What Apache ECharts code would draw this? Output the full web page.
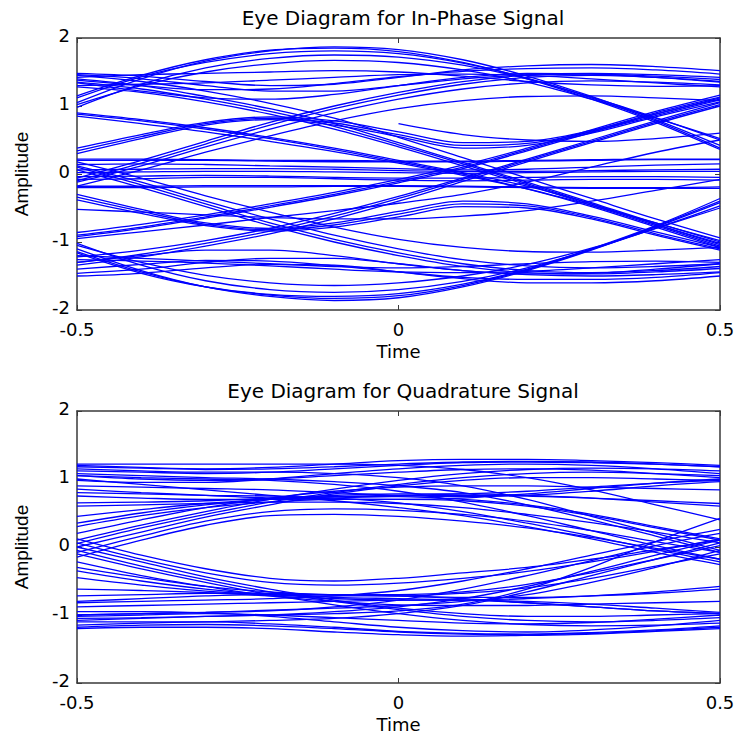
<!DOCTYPE html>
<html>
<head>
<meta charset="utf-8">
<script src="https://cdn.jsdelivr.net/npm/echarts@6/dist/echarts.min.js"></script>
<style>
  html, body { margin: 0; padding: 0; background: #ffffff; }
  #chart { width: 738px; height: 738px; }
</style>
</head>
<body>
<div id="chart"></div>
<script>
// Sample instants of every trace (one symbol period, centred on 0)
const timeSamples = [-0.5, -0.4, -0.3, -0.2, -0.1, 0, 0.1, 0.2, 0.3, 0.4, 0.5];

// Axis ticks
const timeTicks = [-0.5, 0, 0.5];
const ampTicks = [-2, -1, 0, 1, 2];

const titles = ['Eye Diagram for In-Phase Signal', 'Eye Diagram for Quadrature Signal'];
const xName = 'Time';
const yName = 'Amplitude';

// In-phase traces: amplitude at each sample instant (null = trace not yet started)
const inPhaseTraces = [
  [1.05, 1.40, 1.66, 1.81, 1.87, 1.83, 1.68, 1.44, 1.14, 0.80, 0.42],
  [1.12, 1.43, 1.64, 1.77, 1.81, 1.77, 1.63, 1.41, 1.12, 0.78, 0.38],
  [1.15, 1.45, 1.68, 1.82, 1.85, 1.80, 1.64, 1.40, 1.10, 0.76, 0.36],
  [0.98, 1.32, 1.56, 1.70, 1.75, 1.72, 1.60, 1.40, 1.13, 0.83, 0.50],
  [1.02, 1.30, 1.50, 1.62, 1.67, 1.64, 1.53, 1.35, 1.10, 0.82, 0.52],
  [1.48, 1.44, 1.36, 1.30, 1.32, 1.42, 1.53, 1.59, 1.61, 1.58, 1.52],
  [1.46, 1.40, 1.30, 1.22, 1.22, 1.30, 1.40, 1.46, 1.48, 1.46, 1.42],
  [1.38, 1.30, 1.24, 1.25, 1.33, 1.43, 1.51, 1.55, 1.56, 1.53, 1.47],
  [1.34, 1.22, 1.12, 1.10, 1.17, 1.30, 1.42, 1.48, 1.47, 1.42, 1.35],
  [1.42, 1.46, 1.48, 1.50, 1.52, 1.50, 1.44, 1.36, 1.31, 1.29, 1.30],
  [1.30, 1.32, 1.34, 1.38, 1.42, 1.46, 1.47, 1.45, 1.40, 1.34, 1.28],
  [1.45, 1.36, 1.22, 1.04, 0.82, 0.54, 0.24, -0.06, -0.36, -0.66, -0.94],
  [1.40, 1.30, 1.14, 0.96, 0.74, 0.46, 0.17, -0.12, -0.42, -0.72, -0.98],
  [1.35, 1.25, 1.10, 0.92, 0.70, 0.43, 0.15, -0.14, -0.44, -0.74, -1.02],
  [1.28, 1.20, 1.06, 0.88, 0.66, 0.40, 0.12, -0.16, -0.46, -0.76, -1.06],
  [0.90, 0.80, 0.68, 0.54, 0.38, 0.20, 0.02, -0.18, -0.44, -0.74, -1.04],
  [0.88, 0.78, 0.66, 0.52, 0.36, 0.18, 0.00, -0.22, -0.48, -0.78, -1.08],
  [0.85, 0.74, 0.62, 0.48, 0.33, 0.16, -0.02, -0.22, -0.46, -0.72, -1.00],
  [-0.12, 0.12, 0.40, 0.66, 0.90, 1.10, 1.25, 1.34, 1.37, 1.35, 1.31],
  [-0.10, 0.16, 0.44, 0.72, 0.96, 1.16, 1.32, 1.42, 1.45, 1.42, 1.36],
  [-0.06, 0.20, 0.48, 0.76, 1.00, 1.20, 1.36, 1.45, 1.47, 1.44, 1.39],
  [-0.18, 0.06, 0.32, 0.56, 0.78, 0.96, 1.08, 1.14, 1.15, 1.12, 1.08],
  [0.30, 0.52, 0.72, 0.80, 0.72, 0.55, 0.38, 0.42, 0.60, 0.84, 1.06],
  [0.34, 0.55, 0.74, 0.82, 0.75, 0.58, 0.42, 0.45, 0.62, 0.86, 1.09],
  [0.38, 0.58, 0.76, 0.84, 0.78, 0.62, 0.46, 0.48, 0.64, 0.88, 1.12],
  [null, null, null, null, null, 0.74, 0.58, 0.50, 0.48, 0.52, 0.60],
  [-0.92, -0.80, -0.65, -0.49, -0.32, -0.13, 0.08, 0.34, 0.61, 0.88, 1.10],
  [-0.90, -0.78, -0.63, -0.47, -0.30, -0.11, 0.10, 0.36, 0.63, 0.90, 1.13],
  [-0.86, -0.74, -0.60, -0.44, -0.27, -0.08, 0.13, 0.38, 0.65, 0.92, 1.16],
  [0.22, 0.22, 0.21, 0.20, 0.20, 0.19, 0.19, 0.20, 0.21, 0.22, 0.22],
  [0.20, 0.20, 0.20, 0.19, 0.18, 0.18, 0.18, 0.19, 0.20, 0.21, 0.21],
  [0.14, 0.15, 0.14, 0.12, 0.10, 0.08, 0.06, 0.07, 0.10, 0.13, 0.15],
  [0.06, 0.07, 0.08, 0.08, 0.07, 0.05, 0.04, 0.04, 0.05, 0.06, 0.07],
  [0.02, 0.03, 0.04, 0.04, 0.03, 0.02, 0.01, 0.02, 0.03, 0.04, 0.04],
  [-0.04, -0.03, -0.02, -0.03, -0.05, -0.06, -0.06, -0.05, -0.04, -0.04, -0.05],
  [-0.08, -0.07, -0.05, -0.05, -0.07, -0.09, -0.10, -0.09, -0.08, -0.08, -0.09],
  [-0.18, -0.18, -0.17, -0.17, -0.17, -0.17, -0.18, -0.19, -0.20, -0.20, -0.19],
  [-0.20, -0.20, -0.19, -0.19, -0.18, -0.18, -0.19, -0.20, -0.21, -0.21, -0.21],
  [-1.10, -1.42, -1.66, -1.80, -1.86, -1.82, -1.66, -1.42, -1.12, -0.78, -0.42],
  [-1.14, -1.44, -1.66, -1.78, -1.83, -1.79, -1.64, -1.41, -1.11, -0.77, -0.40],
  [-1.16, -1.46, -1.66, -1.77, -1.80, -1.76, -1.62, -1.40, -1.10, -0.76, -0.36],
  [-1.02, -1.34, -1.57, -1.70, -1.74, -1.70, -1.58, -1.38, -1.11, -0.80, -0.47],
  [-1.05, -1.30, -1.49, -1.60, -1.64, -1.60, -1.50, -1.33, -1.09, -0.80, -0.50],
  [-1.50, -1.46, -1.38, -1.33, -1.34, -1.44, -1.54, -1.60, -1.60, -1.57, -1.50],
  [-1.46, -1.40, -1.30, -1.24, -1.24, -1.32, -1.42, -1.48, -1.50, -1.48, -1.44],
  [-1.40, -1.33, -1.27, -1.28, -1.35, -1.44, -1.52, -1.55, -1.55, -1.52, -1.45],
  [-1.30, -1.20, -1.12, -1.12, -1.20, -1.32, -1.42, -1.47, -1.46, -1.40, -1.32],
  [-1.20, -1.24, -1.28, -1.32, -1.36, -1.38, -1.36, -1.32, -1.29, -1.28, -1.30],
  [-1.26, -1.28, -1.31, -1.35, -1.40, -1.44, -1.45, -1.43, -1.38, -1.32, -1.26],
  [-1.34, -1.22, -1.06, -0.88, -0.66, -0.40, -0.11, 0.18, 0.46, 0.74, 1.00],
  [-1.30, -1.18, -1.02, -0.84, -0.62, -0.36, -0.08, 0.20, 0.48, 0.76, 1.02],
  [-1.22, -1.12, -0.98, -0.80, -0.58, -0.33, -0.06, 0.22, 0.50, 0.78, 1.05],
  [0.12, -0.12, -0.40, -0.66, -0.90, -1.10, -1.26, -1.35, -1.38, -1.36, -1.32],
  [0.10, -0.16, -0.44, -0.72, -0.96, -1.16, -1.32, -1.42, -1.45, -1.42, -1.36],
  [0.06, -0.20, -0.48, -0.76, -1.00, -1.20, -1.36, -1.45, -1.47, -1.44, -1.39],
  [0.18, -0.06, -0.32, -0.56, -0.78, -0.96, -1.08, -1.14, -1.15, -1.12, -1.08],
  [-0.30, -0.52, -0.72, -0.80, -0.72, -0.55, -0.40, -0.44, -0.62, -0.85, -1.08],
  [-0.34, -0.55, -0.74, -0.82, -0.75, -0.59, -0.44, -0.47, -0.64, -0.88, -1.10],
  [-0.38, -0.58, -0.76, -0.84, -0.78, -0.63, -0.48, -0.50, -0.66, -0.90, -1.12],
  [-0.95, -0.85, -0.75, -0.64, -0.54, -0.43, -0.30, -0.12, 0.10, 0.32, 0.50],
  [-0.52, -0.56, -0.60, -0.64, -0.66, -0.66, -0.62, -0.54, -0.40, -0.24, -0.08]
];

// Quadrature traces: amplitude at each sample instant
const quadratureTraces = [
  [1.20, 1.17, 1.15, 1.17, 1.22, 1.27, 1.29, 1.29, 1.27, 1.24, 1.20],
  [1.18, 1.16, 1.14, 1.15, 1.18, 1.22, 1.25, 1.26, 1.25, 1.22, 1.18],
  [1.12, 1.10, 1.08, 1.10, 1.15, 1.20, 1.24, 1.25, 1.24, 1.22, 1.18],
  [1.05, 1.00, 0.98, 1.00, 1.05, 1.10, 1.14, 1.15, 1.13, 1.08, 1.02],
  [0.98, 0.95, 0.95, 1.00, 1.08, 1.15, 1.20, 1.22, 1.20, 1.15, 1.08],
  [1.22, 1.22, 1.22, 1.22, 1.22, 1.20, 1.14, 1.02, 0.84, 0.62, 0.40],
  [1.15, 1.12, 1.10, 1.10, 1.08, 1.02, 0.90, 0.70, 0.45, 0.20, -0.05],
  [1.08, 1.05, 1.02, 1.00, 0.96, 0.90, 0.80, 0.62, 0.40, 0.16, -0.08],
  [1.05, 1.02, 1.00, 0.98, 0.92, 0.82, 0.66, 0.46, 0.24, 0.02, -0.18],
  [0.80, 0.78, 0.76, 0.75, 0.72, 0.65, 0.52, 0.35, 0.16, -0.04, -0.22],
  [0.00, 0.22, 0.44, 0.62, 0.78, 0.90, 0.98, 1.02, 1.02, 1.00, 0.98],
  [0.05, 0.28, 0.48, 0.66, 0.80, 0.92, 1.02, 1.08, 1.10, 1.08, 1.05],
  [0.10, 0.32, 0.52, 0.70, 0.85, 0.98, 1.08, 1.14, 1.16, 1.15, 1.12],
  [0.20, 0.40, 0.58, 0.72, 0.82, 0.88, 0.90, 0.90, 0.88, 0.86, 0.84],
  [0.35, 0.50, 0.62, 0.70, 0.74, 0.76, 0.78, 0.82, 0.88, 0.94, 0.98],
  [-0.15, 0.10, 0.32, 0.46, 0.48, 0.45, 0.38, 0.28, 0.14, -0.02, -0.18],
  [-0.08, 0.16, 0.38, 0.52, 0.56, 0.54, 0.48, 0.38, 0.24, 0.08, -0.08],
  [0.75, 0.72, 0.70, 0.70, 0.72, 0.75, 0.76, 0.75, 0.72, 0.68, 0.64],
  [0.65, 0.66, 0.68, 0.72, 0.76, 0.78, 0.78, 0.76, 0.72, 0.66, 0.60],
  [0.60, 0.62, 0.64, 0.66, 0.66, 0.64, 0.58, 0.48, 0.36, 0.22, 0.06],
  [0.45, 0.55, 0.64, 0.70, 0.74, 0.74, 0.70, 0.62, 0.48, 0.30, 0.12],
  [0.30, 0.46, 0.58, 0.66, 0.70, 0.70, 0.68, 0.60, 0.46, 0.28, 0.10],
  [1.00, 0.92, 0.84, 0.76, 0.68, 0.58, 0.46, 0.30, 0.12, -0.08, -0.26],
  [0.90, 0.88, 0.86, 0.84, 0.80, 0.76, 0.74, 0.76, 0.82, 0.90, 0.96],
  [0.85, 0.80, 0.76, 0.72, 0.70, 0.70, 0.72, 0.78, 0.86, 0.94, 1.00],
  [-1.20, -1.18, -1.18, -1.20, -1.25, -1.29, -1.31, -1.30, -1.28, -1.24, -1.20],
  [-1.18, -1.15, -1.14, -1.16, -1.20, -1.25, -1.28, -1.29, -1.27, -1.23, -1.18],
  [-1.10, -1.10, -1.10, -1.13, -1.18, -1.24, -1.27, -1.28, -1.26, -1.22, -1.16],
  [-1.02, -1.00, -0.98, -1.00, -1.04, -1.08, -1.12, -1.13, -1.11, -1.06, -1.00],
  [-0.95, -0.95, -0.97, -1.02, -1.10, -1.18, -1.23, -1.25, -1.22, -1.16, -1.08],
  [-1.15, -1.12, -1.10, -1.08, -1.05, -0.98, -0.86, -0.66, -0.42, -0.18, 0.06],
  [-1.08, -1.05, -1.02, -1.00, -0.95, -0.88, -0.76, -0.58, -0.36, -0.12, 0.10],
  [-1.00, -0.98, -0.96, -0.94, -0.88, -0.78, -0.62, -0.42, -0.20, 0.02, 0.20],
  [-0.82, -0.80, -0.78, -0.76, -0.72, -0.64, -0.50, -0.32, -0.12, 0.08, 0.26],
  [-1.05, -1.04, -1.02, -1.00, -0.98, -0.94, -0.84, -0.62, -0.30, 0.08, 0.42],
  [0.00, -0.22, -0.44, -0.62, -0.78, -0.90, -0.98, -1.02, -1.02, -1.00, -0.98],
  [-0.05, -0.28, -0.48, -0.66, -0.80, -0.92, -1.02, -1.08, -1.10, -1.08, -1.04],
  [-0.10, -0.32, -0.52, -0.70, -0.85, -0.98, -1.08, -1.14, -1.16, -1.15, -1.12],
  [-0.22, -0.42, -0.58, -0.72, -0.80, -0.85, -0.86, -0.86, -0.84, -0.82, -0.80],
  [-0.35, -0.50, -0.62, -0.70, -0.74, -0.76, -0.78, -0.82, -0.88, -0.94, -0.98],
  [0.12, -0.12, -0.32, -0.46, -0.50, -0.46, -0.38, -0.30, -0.18, -0.04, 0.10],
  [0.06, -0.18, -0.38, -0.52, -0.56, -0.53, -0.46, -0.36, -0.22, -0.06, 0.12],
  [-0.72, -0.70, -0.68, -0.68, -0.70, -0.72, -0.74, -0.74, -0.72, -0.68, -0.62],
  [-0.62, -0.64, -0.67, -0.72, -0.76, -0.78, -0.78, -0.76, -0.72, -0.66, -0.58],
  [-0.45, -0.56, -0.65, -0.70, -0.72, -0.72, -0.68, -0.60, -0.46, -0.28, -0.10],
  [-0.30, -0.45, -0.58, -0.66, -0.70, -0.70, -0.66, -0.55, -0.38, -0.18, 0.02],
  [-1.00, -0.98, -0.96, -0.93, -0.90, -0.86, -0.80, -0.70, -0.52, -0.30, -0.05],
  [-0.88, -0.86, -0.84, -0.82, -0.80, -0.78, -0.78, -0.80, -0.84, -0.90, -0.96],
  [-0.80, -0.76, -0.72, -0.70, -0.70, -0.72, -0.76, -0.82, -0.88, -0.94, -0.98]
];

const TITLE_FONT = 'DejaVu Sans';
const LABEL_FONT = 'Liberation Sans';
const TITLE_SIZE = 20;
const TEXT_SIZE = 18;
const AXIS_COLOR = '#3a3a3a';
const TRACE_COLOR = '#0000ff';

const grids = [
  { left: 77, top: 38, width: 643, height: 272 },
  { left: 77, top: 411, width: 643, height: 272 }
];

const xAxes = [];
const yAxes = [];
grids.forEach((g, gi) => {
  const line = { show: true, onZero: false, lineStyle: { color: AXIS_COLOR, width: 1.5 } };
  const tick = { show: true, inside: true, length: 5, lineStyle: { color: AXIS_COLOR } };
  xAxes.push({
    gridIndex: gi, type: 'value', position: 'bottom',
    min: timeTicks[0], max: timeTicks[timeTicks.length - 1], interval: timeTicks[1] - timeTicks[0],
    axisLine: line, axisTick: tick, splitLine: { show: false },
    axisLabel: { color: '#000', fontFamily: TITLE_FONT, fontSize: TEXT_SIZE, margin: 10 },
    name: xName, nameLocation: 'middle', nameGap: 32,
    nameTextStyle: { color: '#000', fontFamily: TITLE_FONT, fontSize: TEXT_SIZE }
  });
  xAxes.push({
    gridIndex: gi, type: 'value', position: 'top',
    min: timeTicks[0], max: timeTicks[timeTicks.length - 1], interval: timeTicks[1] - timeTicks[0],
    axisLine: line, axisTick: tick, splitLine: { show: false }, axisLabel: { show: false }
  });
  yAxes.push({
    gridIndex: gi, type: 'value', position: 'left',
    min: ampTicks[0], max: ampTicks[ampTicks.length - 1], interval: ampTicks[1] - ampTicks[0],
    axisLine: line, axisTick: tick, splitLine: { show: false },
    axisLabel: {
      color: '#000', fontFamily: TITLE_FONT, fontSize: TEXT_SIZE, margin: 7,
      verticalAlign: 'bottom', lineHeight: 18, padding: [0, 0, -6, 0]
    },
    name: yName, nameLocation: 'middle', nameGap: 46, nameRotate: 90,
    nameTextStyle: { color: '#000', fontFamily: LABEL_FONT, fontSize: 19 }
  });
  yAxes.push({
    gridIndex: gi, type: 'value', position: 'right',
    min: ampTicks[0], max: ampTicks[ampTicks.length - 1], interval: ampTicks[1] - ampTicks[0],
    axisLine: line, axisTick: tick, splitLine: { show: false }, axisLabel: { show: false }
  });
});

function traceSeries(traces, gi) {
  return traces.map(values => ({
    type: 'line',
    xAxisIndex: gi * 2,
    yAxisIndex: gi * 2,
    data: timeSamples.map((t, i) => [t, values[i] === null ? '-' : values[i]]),
    smooth: 0.35,
    showSymbol: false,
    symbol: 'none',
    silent: true,
    lineStyle: { color: TRACE_COLOR, width: 1.3 },
    z: 1
  }));
}

const chart = echarts.init(document.getElementById('chart'), null, { renderer: 'svg' });
chart.setOption({
  animation: false,
  backgroundColor: '#ffffff',
  title: titles.map((text, i) => ({
    text: text,
    left: 398, top: i === 0 ? 3 : 376,
    textAlign: 'center',
    textStyle: { fontFamily: TITLE_FONT, fontSize: TITLE_SIZE, fontWeight: 'normal', color: '#000' }
  })),
  grid: grids,
  xAxis: xAxes,
  yAxis: yAxes,
  series: traceSeries(inPhaseTraces, 0).concat(traceSeries(quadratureTraces, 1))
});
</script>
</body>
</html>
